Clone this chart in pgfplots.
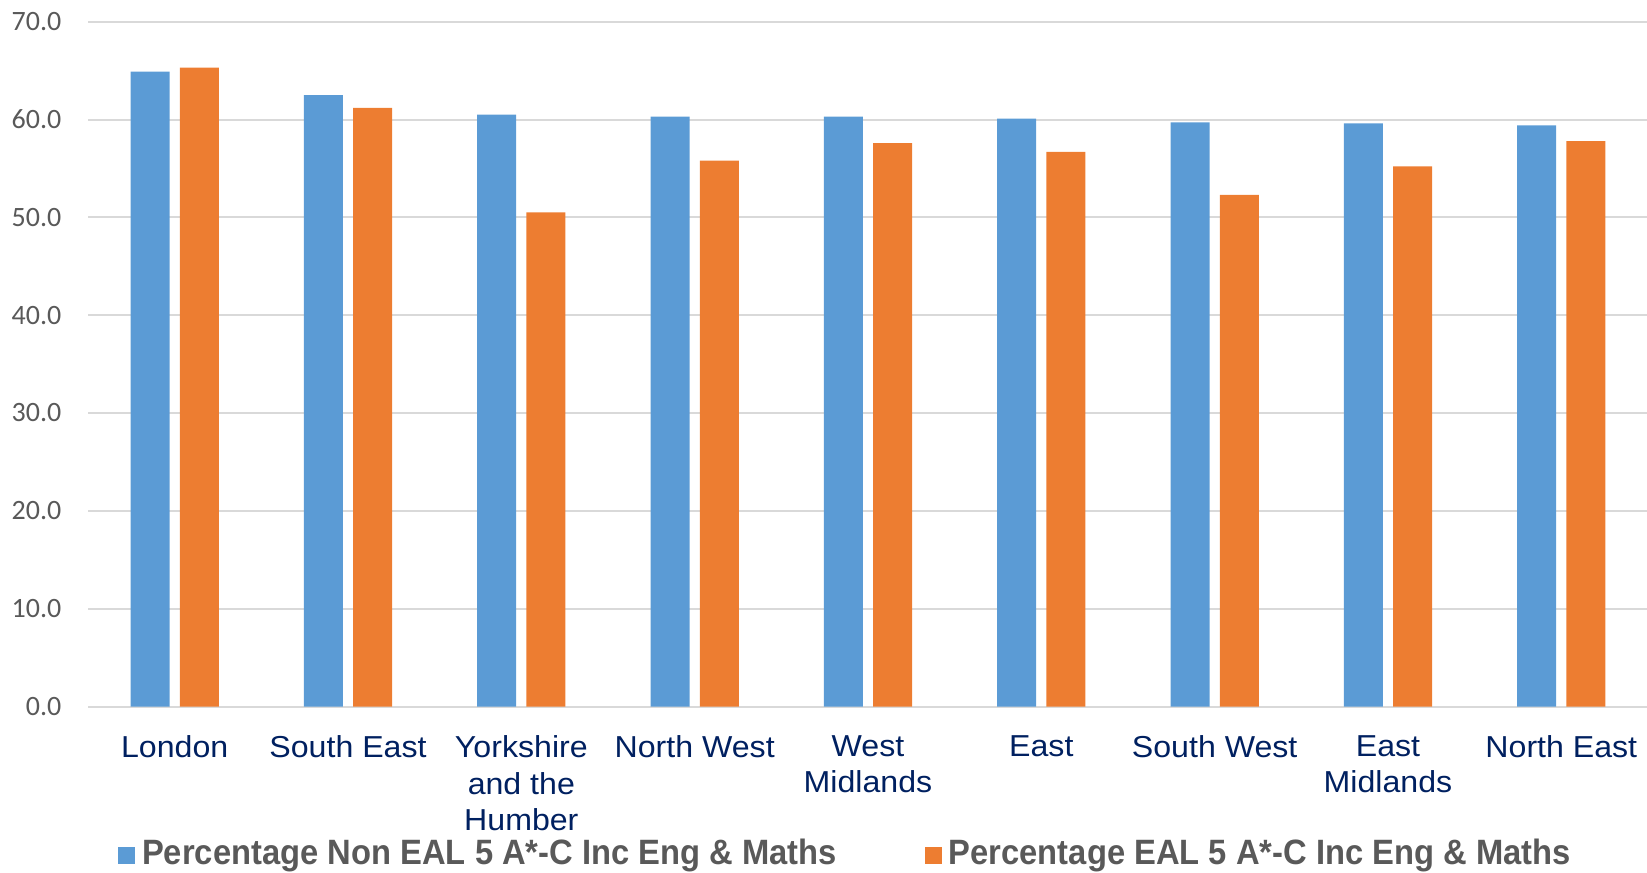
\documentclass[border=0pt]{standalone}
\usepackage{fontspec}
\usepackage{pgfplots}
\pgfplotsset{compat=1.18}
\newfontfamily\tickfont{Carlito}
\newfontfamily\catfont[FakeStretch=1.06]{Liberation Sans}
\newfontfamily\legfont[FakeStretch=0.93]{Liberation Sans}
\definecolor{nonEAL}{HTML}{5B9BD5}
\definecolor{EAL}{HTML}{ED7D31}
\definecolor{gridgray}{HTML}{D9D9D9}
\definecolor{labelgray}{HTML}{595959}
\definecolor{navy}{HTML}{002060}

\begin{document}
\begin{tikzpicture}
  \path[use as bounding box] (0,0) rectangle (823.5pt,436pt);
  \begin{axis}[
      at={(44pt,82.75pt)}, anchor=south west,
      scale only axis,
      width=780pt, height=342.4pt,
      ybar, bar width=19.5pt,
      xmin=-0.5, xmax=8.5,
      ymin=0, ymax=70,
      xtick={0,...,8},
      xticklabels={London, South East, Yorkshire\\and the\\Humber, North West,
        West\\Midlands, East, South West, East\\Midlands, North East},
      ytick={0,10,...,70},
      ymajorgrids,
      grid style={gridgray, line width=1pt},
      axis line style={draw=none},
      major tick length=0pt,
      tick style={draw=none},
      /pgf/number format/assume math mode=true,
      yticklabel={\pgfmathprintnumber[fixed, fixed zerofill, precision=1]{\tick}},
      yticklabel style={font=\tickfont\fontsize{14}{14}\selectfont, text=labelgray,
        anchor=east, inner sep=0pt, xshift=-13.15pt},
      xticklabel style={font=\catfont\fontsize{15.15}{18.35}\selectfont, text=navy,
        align=center, anchor=north, inner sep=0pt, yshift=-14.25pt},
      legend columns=2,
      legend style={at={(0.0192,-0.2139)}, anchor=west, draw=none, fill=none,
        inner sep=0pt, nodes={inner sep=0pt},
        font=\legfont\bfseries\fontsize{17.6}{19}\selectfont, text=labelgray,
        /tikz/every even column/.append style={column sep=44pt},
        /tikz/every odd column/.append style={column sep=3.4pt}},
    ]
    \addplot[fill=nonEAL, draw=none, bar shift=-12.3pt,
      legend image code/.code={\fill[nonEAL] (0pt,-5.5pt) rectangle (8.5pt,3pt);}]
      coordinates {(0,64.9) (1,62.5) (2,60.5) (3,60.3) (4,60.3) (5,60.1) (6,59.7) (7,59.6) (8,59.4)};
    \addplot[fill=EAL, draw=none, bar shift=12.3pt,
      legend image code/.code={\fill[EAL] (0pt,-5.5pt) rectangle (8.5pt,3pt);}]
      coordinates {(0,65.3) (1,61.2) (2,50.5) (3,55.8) (4,57.6) (5,56.7) (6,52.3) (7,55.2) (8,57.8)};
    \legend{Percentage Non EAL 5 A*-C Inc Eng \& Maths, Percentage EAL 5 A*-C Inc Eng \& Maths}
  \end{axis}
\end{tikzpicture}
\end{document}
